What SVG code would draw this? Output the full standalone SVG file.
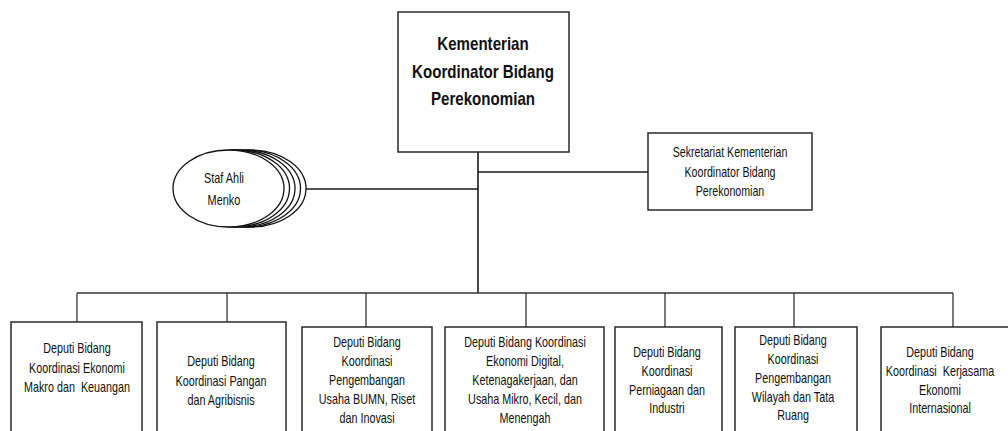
<svg xmlns="http://www.w3.org/2000/svg" width="1008" height="431" viewBox="0 0 1008 431">
<style>
  .box { fill: #ffffff; stroke: #2a2a2a; stroke-width: 1.5; }
  .ell { fill: #ffffff; stroke: #111111; stroke-width: 1.3; }
  .conn { fill: none; stroke: #1a1a1a; stroke-width: 1.6; }
  .conn2 { fill: none; stroke: #333333; stroke-width: 1.3; }
  .t { font-family: "Liberation Sans", Arial, sans-serif; font-size: 14px; text-anchor: middle; fill: #111111; }
  .tb { font-family: "Liberation Sans", Arial, sans-serif; font-size: 18px; font-weight: bold; text-anchor: middle; fill: #111111; }
</style>
<rect x="0" y="0" width="1008" height="431" fill="#ffffff"/>

<g id="connectors">
  <line class="conn" x1="478" y1="152" x2="478" y2="293"/>
  <line class="conn" x1="306" y1="189" x2="478" y2="189"/>
  <line class="conn" x1="478" y1="172" x2="648" y2="172"/>
  <line class="conn2" x1="77" y1="293" x2="953" y2="293"/>
  <line class="conn2" x1="77" y1="293" x2="77" y2="322"/>
  <line class="conn2" x1="227" y1="293" x2="227" y2="322"/>
  <line class="conn2" x1="366" y1="293" x2="366" y2="327"/>
  <line class="conn2" x1="526" y1="293" x2="526" y2="327"/>
  <line class="conn2" x1="665" y1="293" x2="665" y2="327"/>
  <line class="conn2" x1="794" y1="293" x2="794" y2="327"/>
  <line class="conn2" x1="953" y1="293" x2="953" y2="327"/>
</g>

<g id="kementerian">
  <rect class="box" x="398" y="12" width="171" height="140"/>
  <g transform="translate(483 0) scale(0.84 1)">
    <text class="tb" x="0" y="50">Kementerian</text>
    <text class="tb" x="0" y="78">Koordinator Bidang</text>
    <text class="tb" x="0" y="105">Perekonomian</text>
  </g>
</g>

<g id="staf-ahli">
  <ellipse class="ell" cx="250.5" cy="188.5" rx="55.5" ry="38.5"/>
  <ellipse class="ell" cx="245" cy="188.5" rx="55.5" ry="38.5"/>
  <ellipse class="ell" cx="239.5" cy="188.5" rx="55.5" ry="38.5"/>
  <ellipse class="ell" cx="234" cy="188.5" rx="55.5" ry="38.5"/>
  <ellipse class="ell" cx="228.5" cy="188.5" rx="55.5" ry="38.5"/>
  <g transform="translate(224 0) scale(0.78 1)">
    <text class="t" x="0" y="183">Staf Ahli</text>
    <text class="t" x="0" y="205">Menko</text>
  </g>
</g>

<g id="sekretariat">
  <rect class="box" x="648" y="133" width="164" height="77"/>
  <g transform="translate(730 0) scale(0.76 1)">
    <text class="t" x="0" y="157">Sekretariat Kementerian</text>
    <text class="t" x="0" y="177">Koordinator Bidang</text>
    <text class="t" x="0" y="196">Perekonomian</text>
  </g>
</g>

<g id="deputi-1">
  <rect class="box" x="11" y="322" width="131" height="120"/>
  <g transform="translate(77 0) scale(0.77 1)">
    <text class="t" x="0" y="353">Deputi Bidang</text>
    <text class="t" x="0" y="373">Koordinasi Ekonomi</text>
    <text class="t" x="0" y="392" xml:space="preserve">Makro dan  Keuangan</text>
  </g>
</g>

<g id="deputi-2">
  <rect class="box" x="157" y="322" width="129" height="120"/>
  <g transform="translate(221 0) scale(0.77 1)">
    <text class="t" x="0" y="366">Deputi Bidang</text>
    <text class="t" x="0" y="386">Koordinasi Pangan</text>
    <text class="t" x="0" y="405">dan Agribisnis</text>
  </g>
</g>

<g id="deputi-3">
  <rect class="box" x="302" y="327" width="130" height="115"/>
  <g transform="translate(367 0) scale(0.77 1)">
    <text class="t" x="0" y="347">Deputi Bidang</text>
    <text class="t" x="0" y="366">Koordinasi</text>
    <text class="t" x="0" y="385">Pengembangan</text>
    <text class="t" x="0" y="404">Usaha BUMN, Riset</text>
    <text class="t" x="0" y="423">dan Inovasi</text>
  </g>
</g>

<g id="deputi-4">
  <rect class="box" x="445" y="327" width="159" height="115"/>
  <g transform="translate(525 0) scale(0.77 1)">
    <text class="t" x="0" y="347">Deputi Bidang Koordinasi</text>
    <text class="t" x="0" y="366">Ekonomi Digital,</text>
    <text class="t" x="0" y="385">Ketenagakerjaan, dan</text>
    <text class="t" x="0" y="404">Usaha Mikro, Kecil, dan</text>
    <text class="t" x="0" y="423">Menengah</text>
  </g>
</g>

<g id="deputi-5">
  <rect class="box" x="615" y="327" width="107" height="115"/>
  <g transform="translate(667 0) scale(0.77 1)">
    <text class="t" x="0" y="357">Deputi Bidang</text>
    <text class="t" x="0" y="376">Koordinasi</text>
    <text class="t" x="0" y="395">Perniagaan dan</text>
    <text class="t" x="0" y="413">Industri</text>
  </g>
</g>

<g id="deputi-6">
  <rect class="box" x="735" y="327" width="122" height="115"/>
  <g transform="translate(793 0) scale(0.77 1)">
    <text class="t" x="0" y="345">Deputi Bidang</text>
    <text class="t" x="0" y="364">Koordinasi</text>
    <text class="t" x="0" y="383">Pengembangan</text>
    <text class="t" x="0" y="402">Wilayah dan Tata</text>
    <text class="t" x="0" y="420">Ruang</text>
  </g>
</g>

<g id="deputi-7">
  <rect class="box" x="881" y="327" width="131" height="115"/>
  <g transform="translate(940 0) scale(0.77 1)">
    <text class="t" x="0" y="357">Deputi Bidang</text>
    <text class="t" x="0" y="376" xml:space="preserve">Koordinasi  Kerjasama</text>
    <text class="t" x="0" y="395">Ekonomi</text>
    <text class="t" x="0" y="413">Internasional</text>
  </g>
</g>
</svg>
